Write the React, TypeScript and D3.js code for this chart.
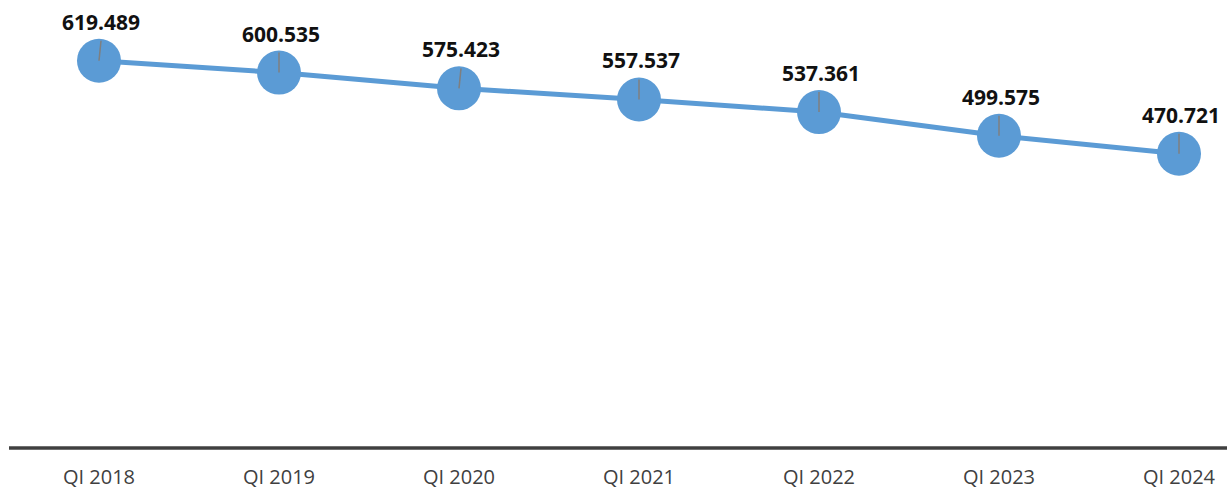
import React from "react";
import * as d3 from "d3";

const categories = ["QI 2018", "QI 2019", "QI 2020", "QI 2021", "QI 2022", "QI 2023", "QI 2024"];
const values = [619.489, 600.535, 575.423, 557.537, 537.361, 499.575, 470.721];
const valueLabels = ["619.489", "600.535", "575.423", "557.537", "537.361", "499.575", "470.721"];

const W = 1227;
const H = 490;
const axisY = 448;

export default function App() {
  const x = d3.scaleBand<string>().domain(categories).range([9, 1269]).padding(0);
  const y = d3.scaleLinear().domain([0, 700]).range([axisY, axisY - 700 * 0.6251]);
  const cx = (c: string) => (x(c) as number) + x.bandwidth() / 2;
  const line = d3
    .line<number>()
    .x((_, i) => cx(categories[i]))
    .y((v) => y(v));

  const r = 22;
  const labelOffset = 31;

  return (
    <svg
      width={W}
      height={H}
      style={{ position: "absolute", left: 0, top: 0, background: "#fff" }}
    >
      <line x1={9} x2={W} y1={axisY} y2={axisY} stroke="#404040" strokeWidth={3.5} />
      {categories.map((c) => (
        <text
          key={c}
          x={cx(c)}
          y={484}
          textAnchor="middle"
          fontFamily="'Open Sans', sans-serif"
          fontSize={20}
          fill="#404040"
        >
          {c}
        </text>
      ))}
      <path d={line(values) || ""} fill="none" stroke="#5B9BD5" strokeWidth={5} />
      {values.map((v, i) => {
        const px = cx(categories[i]);
        const py = y(v);
        return (
          <g key={i}>
            <circle cx={px} cy={py} r={r} fill="#5B9BD5" />
            <line
              x1={px}
              y1={py}
              x2={px + (i === 0 || i === 2 ? 2 : 0)}
              y2={py - labelOffset + 11}
              stroke="#7F7F7F"
              strokeWidth={1.5}
            />
            <text
              x={px + 2}
              y={py - labelOffset}
              textAnchor="middle"
              fontFamily="'Open Sans', sans-serif"
              fontWeight="bold"
              fontSize={21}
              fill="#111"
            >
              {valueLabels[i]}
            </text>
          </g>
        );
      })}
    </svg>
  );
}
